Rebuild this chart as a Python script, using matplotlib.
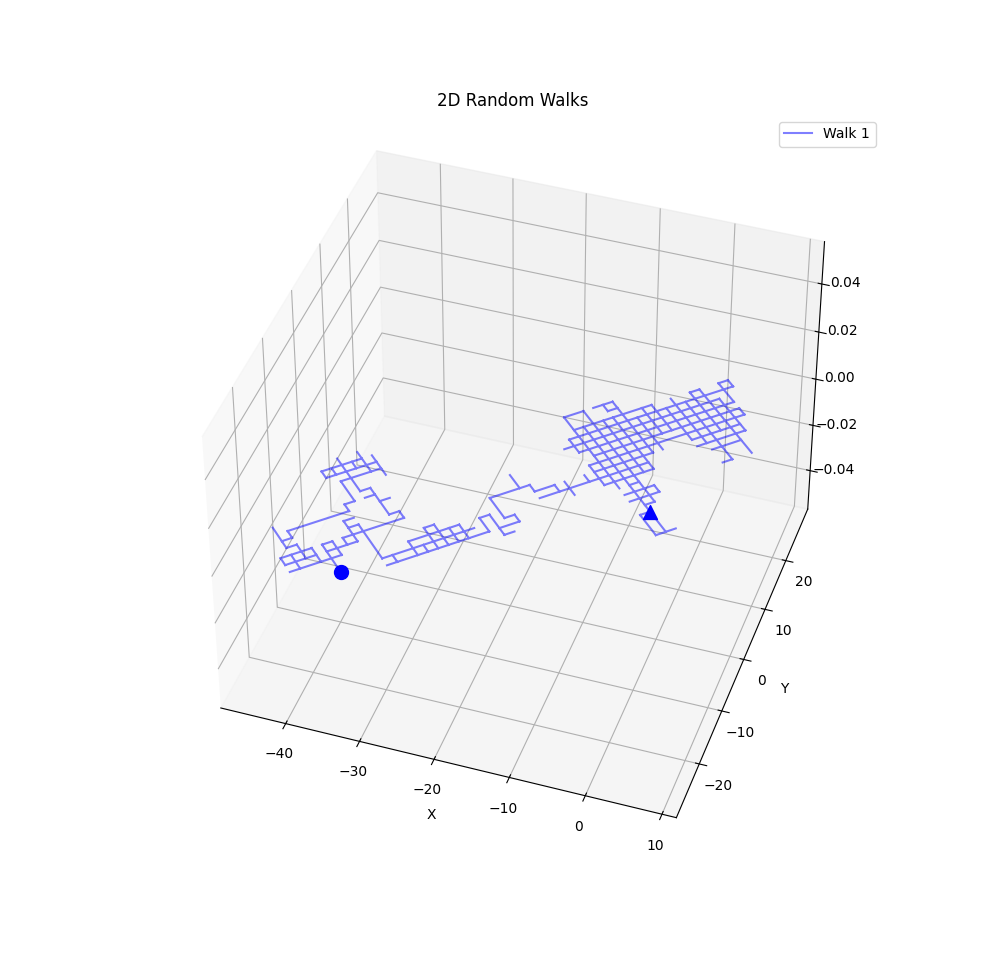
import numpy as np
import matplotlib
matplotlib.use("Agg")
import matplotlib.pyplot as plt

# the steps are diagonal, so the walk is read off as lattice lines: u=(x+y)/2, v=(x-y)/2
# rows: (v, u from, u to), rungs: (u, v from, v to)
rows = [(-11,-26,-25),(-10,-26,-25),(-9,-27,-21),(-8,-29,-26),(-7,-33,-28),(-9,-33,-30),(-8,-33,-30),
        (-10,-32,-31),(-11,-32,-31),(-12,-31,-25),(-13,-25,-24),(-13,-23,-22),(-12,-22,-21),(-14,-23,-22),
        (-16,-24,-20),(-17,-25,-20),(-18,-25,-21),(-10,-22,-21),(-9,-29,-28),
        (-6,-22,-17),(-7,-20,-19),(-5,-25,-16),(-4,-25,-15),(-6,-15,-14),(-3,-14,-13),(-4,-14,-12),(-5,-13,-12),
        (-8,-13,-9),(-7,-9,-7),(-6,-9,2),
        (-15,-2,0),(-15,1,3),(-14,2,3),(-13,-2,6),(-12,-3,14),(-11,-4,12),(-10,-3,13),(-9,-2,13),(-8,-3,13),
        (-7,-3,3),(-7,7,12),(-6,7,12),(-5,8,11),(-5,-3,2),(-3,8,9),(-13,10,11),(-13,13,14),
        (-4,-1,0),(-3,-2,1),(-2,-2,1),(-1,-1,0),(0,-2,-1),(3,-2,0)]
rungs = [(-32,-13,-10),(-31,-12,-11),(-31,-10,-8),(-33,-9,-8),(-32,-9,-7),(-30,-9,-7),(-29,-9,-5),(-28,-9,-7),
         (-27,-9,-8),(-26,-11,-8),(-25,-10,-5),(-25,-13,-12),(-24,-16,-13),(-24,-18,-17),(-25,-18,-17),(-23,-19,-14),
         (-22,-18,-17),(-21,-19,-16),(-20,-18,-15),(-22,-14,-10),(-21,-10,-9),(-24,-5,-4),(-22,-6,-4),(-21,-5,-4),
         (-20,-7,-4),(-19,-7,-4),(-18,-6,-4),(-17,-6,-4),(-15,-6,-4),(-14,-6,-3),(-13,-8,-5),(-12,-5,-4),(-10,-10,-8),
         (-9,-8,-7),(-7,-7,-6),(-6,-7,-5),(-4,-7,-6),
         (-3,-12,-10),(-3,-8,-5),(-2,-15,-5),(-2,-5,-4),(-1,-13,3),(-2,0,3),(0,-15,-1),(1,-13,-5),(1,-3,-2),(2,-15,-14),
         (2,-13,-5),(3,-15,-7),(4,-12,-7),(5,-13,-9),(6,-13,-9),(7,-12,-7),(8,-13,-6),(9,-12,-3),(10,-13,-7),(11,-13,-3),
         (12,-11,-6),(13,-13,-10),(13,-9,-8),(14,-13,-12)]
start_xy = (-1, -1)
end_xy = (-34, -24)
y_ticks = [-20, -10, 0, 10, 20]

walk_x, walk_y = [], []
for v, u0, u1 in rows:
    walk_x += [u0 + v, u1 + v, np.nan]
    walk_y += [u0 - v, u1 - v, np.nan]
for u, v0, v1 in rungs:
    walk_x += [u + v0, u + v1, np.nan]
    walk_y += [u - v0, u - v1, np.nan]

fig = plt.figure(figsize=(10, 9.61), dpi=100)
ax = fig.add_axes([0.1420, 1 - 855.4 / 961, 0.7406, 740.6 / 961], projection='3d')
ax.plot(walk_x, walk_y, np.zeros(len(walk_x)), color='blue', alpha=0.5, label='Walk 1')
ax.scatter(start_xy[0], start_xy[1], 0, color='blue', marker='^', s=100, depthshade=False)
ax.scatter(end_xy[0], end_xy[1], 0, color='blue', marker='o', s=100, depthshade=False)
ax.view_init(elev=41.15, azim=-71.4)
ax.set_yticks(y_ticks)
ax.set_xlabel('X')
ax.set_ylabel('Y')
ax.set_title('2D Random Walks')
ax.legend(loc='upper right')
fig.savefig("out.png")
